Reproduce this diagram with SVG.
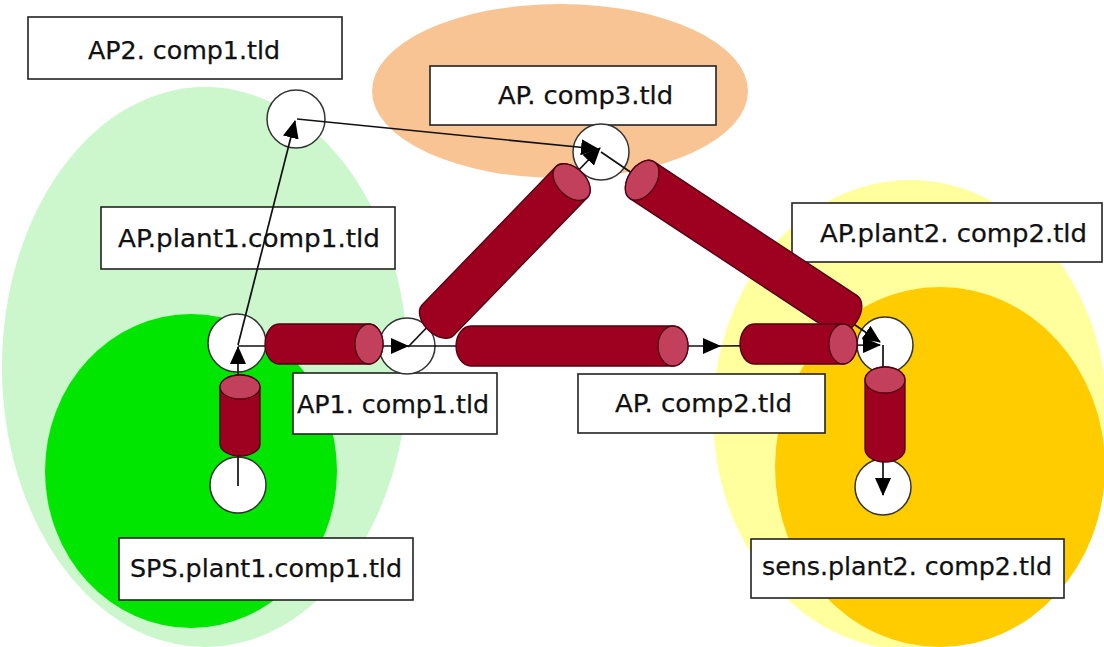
<svg xmlns="http://www.w3.org/2000/svg" width="1104" height="647" viewBox="0 0 1104 647">
<style>
.lbl rect{fill:#fff;stroke:#222;stroke-width:1.6}
.lbl text{font-family:"DejaVu Sans","Liberation Sans",sans-serif;font-size:24px;fill:#111;stroke:#111;stroke-width:0.25}
.node circle{fill:#fff;stroke:#333;stroke-width:1.5}
.conn path{fill:none;stroke:#111;stroke-width:1.7;marker-end:url(#ah)}
.cyl .body{fill:#9e0020;stroke:#4f0010;stroke-width:1.3}
.cyl .cap{fill:#c3405c;stroke:#4f0010;stroke-width:1.3}
</style>
<defs>
<marker id="ah" viewBox="0 0 18 16" refX="17" refY="8" markerWidth="18" markerHeight="16" markerUnits="userSpaceOnUse" orient="auto">
<path d="M0,0 L18,8 L0,16 Z" fill="#000"/>
</marker>
</defs>
<rect width="1104" height="647" fill="#fff"/>
<g id="zones">
<ellipse cx="205" cy="367" rx="203" ry="280" fill="#ccf7cc"/>
<ellipse cx="191" cy="471" rx="146" ry="157" fill="#00e600"/>
<ellipse cx="560" cy="91" rx="188" ry="87" fill="#f9c493"/>
<ellipse cx="910" cy="415" rx="197" ry="235" fill="#ffff9e"/>
<ellipse cx="940" cy="467" rx="165" ry="180" fill="#ffcc00"/>
</g>
<g id="label-ap2-comp1" class="lbl"><rect x="28" y="17" width="314" height="62"/><text x="88" y="59" textLength="192" lengthAdjust="spacingAndGlyphs">AP2. comp1.tld</text></g>
<g id="label-ap-plant1-comp1" class="lbl"><rect x="101" y="207" width="294" height="62"/><text x="118" y="247" textLength="262" lengthAdjust="spacingAndGlyphs">AP.plant1.comp1.tld</text></g>
<g id="label-ap-comp3" class="lbl"><rect x="430" y="66" width="286" height="59"/><text x="498" y="104" textLength="175" lengthAdjust="spacingAndGlyphs">AP. comp3.tld</text></g>
<g id="label-ap-plant2-comp2" class="lbl"><rect x="792" y="203" width="310" height="59"/><text x="820" y="242" textLength="267" lengthAdjust="spacingAndGlyphs">AP.plant2. comp2.tld</text></g>
<g id="label-ap1-comp1" class="lbl"><rect x="293" y="373" width="204" height="61"/><text x="297" y="413" textLength="192" lengthAdjust="spacingAndGlyphs">AP1. comp1.tld</text></g>
<g id="label-ap-comp2" class="lbl"><rect x="578" y="374" width="247" height="59"/><text x="615" y="412" textLength="177" lengthAdjust="spacingAndGlyphs">AP. comp2.tld</text></g>
<g id="label-sps-plant1-comp1" class="lbl"><rect x="119" y="538" width="294" height="62"/><text x="130" y="577" textLength="272" lengthAdjust="spacingAndGlyphs">SPS.plant1.comp1.tld</text></g>
<g id="label-sens-plant2-comp2" class="lbl"><rect x="751" y="539" width="313" height="59"/><text x="762" y="575" textLength="290" lengthAdjust="spacingAndGlyphs">sens.plant2. comp2.tld</text></g>
<g id="n-ap2" class="node"><circle cx="296" cy="119" r="29"/></g>
<g id="n-plant1" class="node"><circle cx="237" cy="343" r="29"/></g>
<g id="n-ap1" class="node"><circle cx="407" cy="346" r="28"/></g>
<g id="n-sps" class="node"><circle cx="238" cy="485" r="28"/></g>
<g id="n-comp3" class="node"><circle cx="601" cy="152" r="28"/></g>
<g id="n-plant2" class="node"><circle cx="885" cy="345" r="28"/></g>
<g id="n-sens" class="node"><circle cx="883" cy="487" r="28"/></g>
<g id="connectors" class="conn">
<path d="M238,486 L238,347"/>
<path d="M238,345 L295,121"/>
<path d="M297,119 L598,149"/>
<path d="M238,346 L408,346"/>
<path d="M408,347 L600,148"/>
<path d="M408,346 L720,346"/>
<path d="M720,346 L880,345"/>
<path d="M601,152 L880,342"/>
<path d="M883,345 L883,495"/>
</g>
<g id="pipes" class="cyl">
<g transform="translate(279,344)"><path class="body" d="M0,-20 L90,-20 A14 20 0 0 1 90,20 L0,20 A14 20 0 0 1 0,-20 Z"/><ellipse class="cap" cx="90" cy="0" rx="14" ry="20"/></g>
<g transform="translate(240,444) rotate(-90)"><path class="body" d="M0,-20 L57,-20 A12 20 0 0 1 57,20 L0,20 A12 20 0 0 1 0,-20 Z"/><ellipse class="cap" cx="57" cy="0" rx="12" ry="20"/></g>
<g transform="translate(438,320) rotate(-45.9)"><path class="body" d="M0,-22 L192,-22 A14 22 0 0 1 192,22 L0,22 A14 22 0 0 1 0,-22 Z"/><ellipse class="cap" cx="192" cy="0" rx="14" ry="22"/></g>
<g transform="translate(471,346)"><path class="body" d="M0,-20 L202,-20 A15 20 0 0 1 202,20 L0,20 A15 20 0 0 1 0,-20 Z"/><ellipse class="cap" cx="202" cy="0" rx="15" ry="20"/></g>
<g transform="translate(845,314) rotate(-146.6)"><path class="body" d="M0,-22 L243,-22 A14 22 0 0 1 243,22 L0,22 A14 22 0 0 1 0,-22 Z"/><ellipse class="cap" cx="243" cy="0" rx="14" ry="22"/></g>
<g transform="translate(754,344)"><path class="body" d="M0,-20 L89,-20 A14 20 0 0 1 89,20 L0,20 A14 20 0 0 1 0,-20 Z"/><ellipse class="cap" cx="89" cy="0" rx="14" ry="20"/></g>
<g transform="translate(885,449) rotate(-90)"><path class="body" d="M0,-20 L69,-20 A13 20 0 0 1 69,20 L0,20 A13 20 0 0 1 0,-20 Z"/><ellipse class="cap" cx="69" cy="0" rx="13" ry="20"/></g>
</g>
</svg>
